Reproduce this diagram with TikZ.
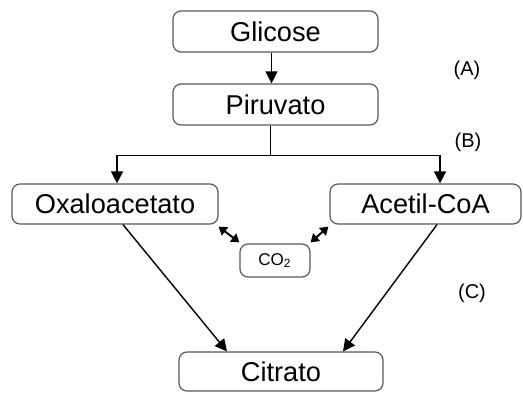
\documentclass[tikz,border=0pt]{standalone}
\usepackage{fontspec}
\setmainfont{Liberation Sans}
\usetikzlibrary{arrows.meta,calc}
\tikzset {>={Triangle[length=6pt,width=6pt]}}
\tikzset{box/.style={draw=black!65,rounded corners=4pt,line width=0.6pt,
    inner sep=0pt,font=\fontsize{13.6}{16}\selectfont},
  flow/.style={line width=0.7pt},
  swap/.style={line width=1pt,{Triangle[length=4pt,width=5pt]}-{Triangle[length=4pt,width=5pt]}},
  tag/.style={font=\fontsize{10}{12}\selectfont}}

\begin{document}
\begin{tikzpicture}[x=0.5pt,y=-0.5pt]
\useasboundingbox (0,0) rectangle (523,392);
\node[box,minimum width=102.5pt,minimum height=20.5pt] (glic) at (275.5,31.5) {Glicose};
\node[box,minimum width=102.5pt,minimum height=20.5pt] (piru) at (275.5,104.5) {Piruvato};
\node[box,minimum width=103pt,minimum height=20pt] (oxal) at (115,204) {Oxaloacetato};
\node[box,minimum width=95.5pt,minimum height=20pt] (acet) at (425.5,204) {Acetil-CoA};
\node[box,minimum width=35pt,minimum height=16.5pt,font=\fontsize{8.5}{10}\selectfont] (co2) at (275,260.5) {CO\textsubscript{2}};
\node[box,minimum width=102pt,minimum height=19.5pt] (citr) at (281,371.5) {Citrato};

\node[tag] (labA) at (467,70) {(A)};
\node[tag] (labB) at (468,142) {(B)};
\node[tag] (labC) at (472,293) {(C)};

\coordinate (sp) at ($(piru.south)+(0,30)$);
\draw[flow,->] ([xshift=-2pt]glic.south) -- ([xshift=-2pt]piru.north);
\draw[flow] ([xshift=-2.5pt]piru.south) -- ([xshift=-2.5pt]sp);
\draw[flow,->] ([xshift=-2.5pt]sp) -| ([xshift=1pt]oxal.north);
\draw[flow,->] ([xshift=-2.5pt]sp) -| ([xshift=7.25pt]acet.north);

\draw[flow,->] ([xshift=4pt]oxal.south) -- ([xshift=-27pt]citr.north);
\draw[flow,->] ([xshift=5.75pt]acet.south) -- ([xshift=31pt]citr.north);

\draw[swap] ([shift={(0,2)}]oxal.south east) -- ([shift={(0,-1)}]co2.north west);
\draw[swap] ([shift={(-1,2)}]acet.south west) -- ([shift={(0,-1)}]co2.north east);
\end{tikzpicture}
\end{document}
